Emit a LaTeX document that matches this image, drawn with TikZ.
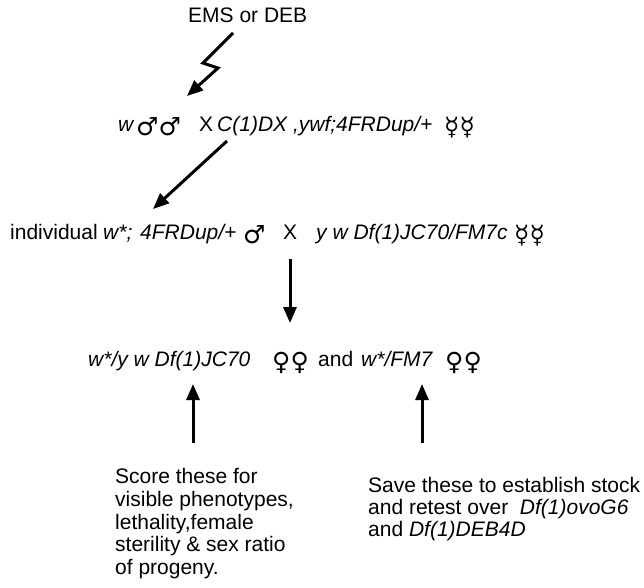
\documentclass[tikz,border=0pt]{standalone}
\usepackage{fontspec}
\setmainfont{Liberation Sans}
\newfontfamily\symf{DejaVu Sans}
\usetikzlibrary{arrows.meta}
\begin{document}
\begin{tikzpicture}[x=1pt,y=-1pt,
  txt/.style={anchor=base west,inner sep=0pt,font=\fontsize{21}{23}\selectfont},
  it/.style={anchor=base west,inner sep=0pt,font=\fontsize{21}{23}\selectfont\itshape},
  sy/.style={anchor=base west,inner sep=0pt,yshift=-4pt,font=\fontsize{25}{27}\selectfont\symf},
  arr/.style={line width=3pt,line join=miter,-{Triangle[length=16pt,width=13pt]}}]
\path[use as bounding box] (0,0) rectangle (644,587);
\fill[white] (0,0) rectangle (644,587);

% top label
\node[txt] (ems) at (188,22) {EMS or DEB};

% first cross
\node[it] (w1) at (118,131) {w};
\node[sy] (m1) at (136,131) {♂♂};
\node[txt] (x1) at (199,131) {X};
\node[it] (c1) at (217,131) {C(1)DX ,ywf;4FRDup/+};
\node[sy] (h1) at (444,131) {☿☿};

% second cross
\node[txt] (ind) at (10,239) {individual};
\node[it] (w2) at (103,239) {w*;};
\node[it] (d2) at (140,239) {4FRDup/+};
\node[sy] (m2) at (243,239) {♂};
\node[txt] (x2) at (283,239) {X};
\node[it] (y2) at (316,239) {y w Df(1)JC70/FM7c};
\node[sy] (h2) at (514,239) {☿☿};

% progeny
\node[it] (a3) at (88,366) {w*/y w Df(1)JC70};
\node[sy] (f3) at (272,366) {♀♀};
\node[txt] (and3) at (318,366) {and};
\node[it] (b3) at (361,366) {w*/FM7};
\node[sy] (g3) at (445,366) {♀♀};

% notes
\node[txt] (s1) at (115,483) {Score these for};
\node[txt] (s2) at (115,506) {visible phenotypes,};
\node[txt] (s3) at (115,529) {lethality,female};
\node[txt] (s4) at (115,551) {sterility \& sex ratio};
\node[txt] (s5) at (115,574) {of progeny.};

\node[txt] (v1) at (368,492) {Save these to establish stock};
\node[txt] (v2) at (368,514) {and retest over\ \ \textit{Df(1)ovoG6}};
\node[txt] (v3) at (368,536) {and \textit{Df(1)DEB4D}};

% arrows
\coordinate (l0) at (233,33);
\coordinate (l1) at (203,63);
\coordinate (l2) at (218,68);
\coordinate (l3) at (187,96);
\draw[arr] (l0) -- (l1) -- (l2) -- (l3);

\coordinate (p0) at (227,141);
\coordinate (p1) at (153,209);
\draw[arr] (p0) -- (p1);

\coordinate (q0) at (290,259);
\coordinate (q1) at (290,323);
\draw[arr] (q0) -- (q1);

\coordinate (r0) at (193,443);
\coordinate (r1) at (193,384);
\draw[arr] (r0) -- (r1);

\coordinate (t0) at (422,443);
\coordinate (t1) at (422,384);
\draw[arr] (t0) -- (t1);
\end{tikzpicture}
\end{document}
